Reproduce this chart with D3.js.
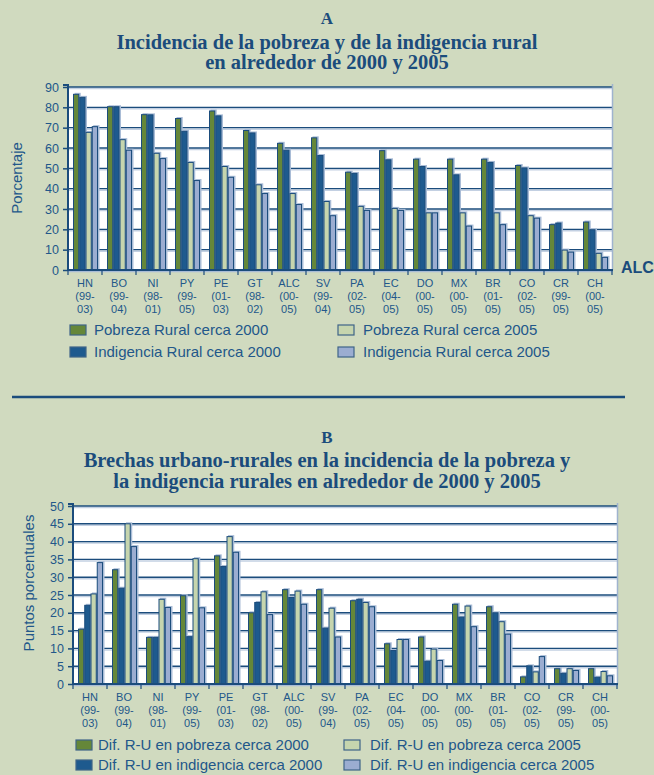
<!DOCTYPE html>
<html>
<head>
<meta charset="utf-8">
<script src="https://cdn.jsdelivr.net/npm/d3@7"></script>
<style>
  body { margin: 0; background: #d0dabf; }
  svg { display: block; }
</style>
</head>
<body>
<div id="chart"></div>
<script>
// country codes and survey periods, shared by both panels
var codes = ["HN", "BO", "NI", "PY", "PE", "GT", "ALC", "SV",
	"PA", "EC", "DO", "MX", "BR", "CO", "CR", "CH"];
var periods = ["99-03", "99-04", "98-01", "99-05", "01-03", "98-02", "00-05", "99-04",
	"02-05", "04-05", "00-05", "00-05", "01-05", "02-05", "99-05", "00-05"];

// panel A: rural poverty / indigence (%)
var pobreza2000 = [86.4, 80.3, 76.4, 74.5, 78.2, 68.6, 62.3, 65.0,
	48.1, 58.7, 54.5, 54.5, 54.5, 51.4, 22.3, 23.6];
var indigencia2000 = [84.9, 80.3, 76.3, 68.2, 75.8, 67.4, 58.9, 56.3,
	47.5, 54.2, 50.9, 46.8, 52.9, 50.2, 23.1, 19.8];
var pobreza2005 = [67.7, 64.1, 57.4, 52.9, 50.9, 41.9, 37.6, 33.7,
	31.3, 30.3, 28.1, 28.1, 28.1, 26.7, 9.8, 8.2];
var indigencia2005 = [70.5, 58.9, 54.8, 44.0, 45.6, 37.6, 32.2, 26.7,
	29.3, 29.3, 28.1, 21.6, 22.3, 25.5, 8.8, 6.2];

// panel B: urban-rural gaps (percentage points)
var brechaPob2000 = [15.4, 32.1, 13.1, 24.8, 36.0, 20.0, 26.5, 26.5,
	23.4, 11.3, 13.2, 22.4, 21.7, 2.0, 4.3, 4.3];
var brechaInd2000 = [22.1, 26.9, 13.1, 13.3, 33.0, 22.9, 24.3, 15.7,
	23.8, 9.4, 6.4, 18.8, 20.0, 5.1, 3.0, 1.9];
var brechaPob2005 = [25.3, 45.0, 23.8, 35.2, 41.4, 25.9, 26.1, 21.3,
	22.9, 12.5, 9.8, 21.9, 17.5, 3.4, 4.3, 3.5];
var brechaInd2005 = [34.1, 38.6, 21.5, 21.4, 37.0, 19.5, 22.4, 13.2,
	21.7, 12.5, 6.6, 16.1, 14.0, 7.7, 3.8, 2.3];

var legendA = ["Pobreza Rural cerca 2000", "Indigencia Rural cerca 2000",
	"Pobreza Rural cerca 2005", "Indigencia Rural cerca 2005"];
var legendB = ["Dif. R-U en pobreza cerca 2000", "Dif. R-U en indigencia cerca 2000",
	"Dif. R-U en pobreza cerca 2005", "Dif. R-U en indigencia cerca 2005"];

var ticksA = d3.range(0, 91, 10);
var ticksB = d3.range(0, 51, 5);

var colors = ["#658739", "#1e5a8e", "#c6d5ae", "#9badd1"];
var navy = "#1b4c7c";
var textColor = "#22578a";
var shadow = "#a9bcd6";

var width = 654, height = 775;

var svg = d3.select("#chart").append("svg")
	.attr("width", width)
	.attr("height", height);

svg.append("rect")
	.attr("width", width)
	.attr("height", height)
	.attr("fill", "#d0dabf");

function drawTitle(lines, ys) {
	lines.forEach(function (t, i) {
		svg.append("text")
			.attr("x", width / 2)
			.attr("y", ys[i])
			.attr("text-anchor", "middle")
			.attr("font-family", "Liberation Serif, serif")
			.attr("font-weight", "bold")
			.attr("font-size", i == 0 ? 17 : 20.5)
			.attr("fill", navy)
			.text(t);
	});
}

function drawPanel(p) {
	var x = d3.scaleBand()
		.domain(codes)
		.range([p.left, p.right]);
	var inner = d3.scaleBand()
		.domain([0, 1, 2, 3])
		.range([5, 30]);
	var y = d3.scaleLinear()
		.domain([0, p.yMax])
		.range([p.bottom, p.top]);

	// plot background
	svg.append("rect")
		.attr("x", p.left)
		.attr("y", p.top)
		.attr("width", p.right - p.left)
		.attr("height", p.bottom - p.top)
		.attr("fill", "#ffffff");

	// gridlines with a faint shadow
	p.ticks.forEach(function (t) {
		if (t == 0) return;
		svg.append("line")
			.attr("x1", p.left).attr("x2", p.right)
			.attr("y1", y(t) + 1.5).attr("y2", y(t) + 1.5)
			.attr("stroke", "#c3d0e2").attr("stroke-width", 1.5);
		svg.append("line")
			.attr("x1", p.left).attr("x2", p.right)
			.attr("y1", y(t)).attr("y2", y(t))
			.attr("stroke", navy).attr("stroke-width", 1.4);
	});

	// right border
	svg.append("line")
		.attr("x1", p.right + 0.5).attr("x2", p.right + 0.5)
		.attr("y1", p.top - 3).attr("y2", p.bottom)
		.attr("stroke", "#9fb3cf").attr("stroke-width", 1.5);

	// bars
	p.series.forEach(function (vals, s) {
		var g = svg.append("g");
		g.selectAll("rect.sh")
			.data(vals)
			.join("rect")
			.attr("class", "sh")
			.attr("x", function (d, i) { return x(codes[i]) + inner(s) + 1.5; })
			.attr("y", function (d) { return y(d) - 1.5; })
			.attr("width", inner.bandwidth())
			.attr("height", function (d) { return p.bottom - y(d) + 1.5; })
			.attr("fill", shadow);
	});
	p.series.forEach(function (vals, s) {
		var g = svg.append("g");
		g.selectAll("rect.bar")
			.data(vals)
			.join("rect")
			.attr("class", "bar")
			.attr("x", function (d, i) { return x(codes[i]) + inner(s) + 0.5; })
			.attr("y", function (d) { return y(d); })
			.attr("width", inner.bandwidth() - 1)
			.attr("height", function (d) { return p.bottom - y(d); })
			.attr("fill", colors[s])
			.attr("stroke", navy)
			.attr("stroke-width", 1);
	});

	// y axis
	var yAxis = d3.axisLeft(y)
		.tickValues(p.ticks)
		.tickSize(5)
		.tickPadding(4);
	var gy = svg.append("g")
		.attr("transform", "translate(" + p.left + ",0)")
		.call(yAxis);
	gy.select(".domain").attr("stroke", navy).attr("stroke-width", 2)
		.attr("d", "M-5," + (p.top - 2) + "H0V" + p.bottom);
	gy.selectAll(".tick line").attr("stroke", navy).attr("stroke-width", 1.5);
	gy.selectAll(".tick text")
		.attr("fill", textColor)
		.attr("font-family", "Liberation Sans, Arial, sans-serif")
		.attr("font-size", 12.5);

	// x axis: ticks at category boundaries
	svg.append("line")
		.attr("x1", p.left).attr("x2", p.right + 1)
		.attr("y1", p.bottom + 1.5).attr("y2", p.bottom + 1.5)
		.attr("stroke", "#a9bcd6").attr("stroke-width", 1.5);
	svg.append("line")
		.attr("x1", p.left).attr("x2", p.right + 1)
		.attr("y1", p.bottom).attr("y2", p.bottom)
		.attr("stroke", navy).attr("stroke-width", 2);
	codes.forEach(function (c) {
		svg.append("line")
			.attr("x1", x(c)).attr("x2", x(c))
			.attr("y1", p.bottom).attr("y2", p.bottom + 5)
			.attr("stroke", navy).attr("stroke-width", 1.2);
	});
	svg.append("line")
		.attr("x1", p.right).attr("x2", p.right)
		.attr("y1", p.bottom).attr("y2", p.bottom + 5)
		.attr("stroke", navy).attr("stroke-width", 1.2);

	// category labels on three lines
	codes.forEach(function (c, i) {
		var parts = periods[i].split("-");
		var lines = [c, "(" + parts[0] + "-", parts[1] + ")"];
		lines.forEach(function (l, k) {
			svg.append("text")
				.attr("x", x(c) + x.bandwidth() / 2)
				.attr("y", p.bottom + 17 + k * 13)
				.attr("text-anchor", "middle")
				.attr("font-family", "Liberation Sans, Arial, sans-serif")
				.attr("font-size", 11)
				.attr("fill", textColor)
				.text(l);
		});
	});

	// y axis title
	svg.append("text")
		.attr("transform", "translate(" + p.yTitleX + "," + p.yTitleY + ") rotate(-90)")
		.attr("text-anchor", "middle")
		.attr("font-family", "Liberation Sans, Arial, sans-serif")
		.attr("font-size", 15)
		.attr("fill", textColor)
		.text(p.yTitle);

	// legend, two columns
	p.legend.forEach(function (lab, s) {
		var col = s < 2 ? 0 : 1, row = s % 2;
		var lx = p.legendX[col], ly = p.legendY[row];
		svg.append("rect")
			.attr("x", lx).attr("y", ly - 5)
			.attr("width", 16).attr("height", 10)
			.attr("fill", colors[s])
			.attr("stroke", "#3f6488")
			.attr("stroke-width", 1.2);
		svg.append("text")
			.attr("x", p.legendTextX[col])
			.attr("y", ly + 5)
			.attr("font-family", "Liberation Sans, Arial, sans-serif")
			.attr("font-size", 15)
			.attr("fill", textColor)
			.text(lab);
	});
}

drawTitle(["A", "Incidencia de la pobreza y de la indigencia rural",
	"en alrededor de 2000 y 2005"], [24, 49, 69]);

drawPanel({
	left: 68, right: 612, top: 87, bottom: 270,
	yMax: 90, ticks: ticksA,
	series: [pobreza2000, indigencia2000, pobreza2005, indigencia2005],
	yTitle: "Porcentaje", yTitleX: 22, yTitleY: 178,
	legend: legendA,
	legendX: [70, 338], legendTextX: [94, 363], legendY: [330, 352]
});

svg.append("text")
	.attr("x", 621).attr("y", 273)
	.attr("font-family", "Liberation Sans, Arial, sans-serif")
	.attr("font-weight", "bold")
	.attr("font-size", 16)
	.attr("fill", navy)
	.text("ALC");

// separator
svg.append("line")
	.attr("x1", 12).attr("x2", 625)
	.attr("y1", 397).attr("y2", 397)
	.attr("stroke", navy).attr("stroke-width", 2.5);

drawTitle(["B", "Brechas urbano-rurales en la incidencia de la pobreza y",
	"la indigencia rurales en alrededor de 2000 y 2005"], [443, 467, 488]);

drawPanel({
	left: 73, right: 617, top: 506, bottom: 684,
	yMax: 50, ticks: ticksB,
	series: [brechaPob2000, brechaInd2000, brechaPob2005, brechaInd2005],
	yTitle: "Puntos porcentuales", yTitleX: 34, yTitleY: 583,
	legend: legendB,
	legendX: [76, 344], legendTextX: [98, 370], legendY: [745, 765]
});
</script>
</body>
</html>
